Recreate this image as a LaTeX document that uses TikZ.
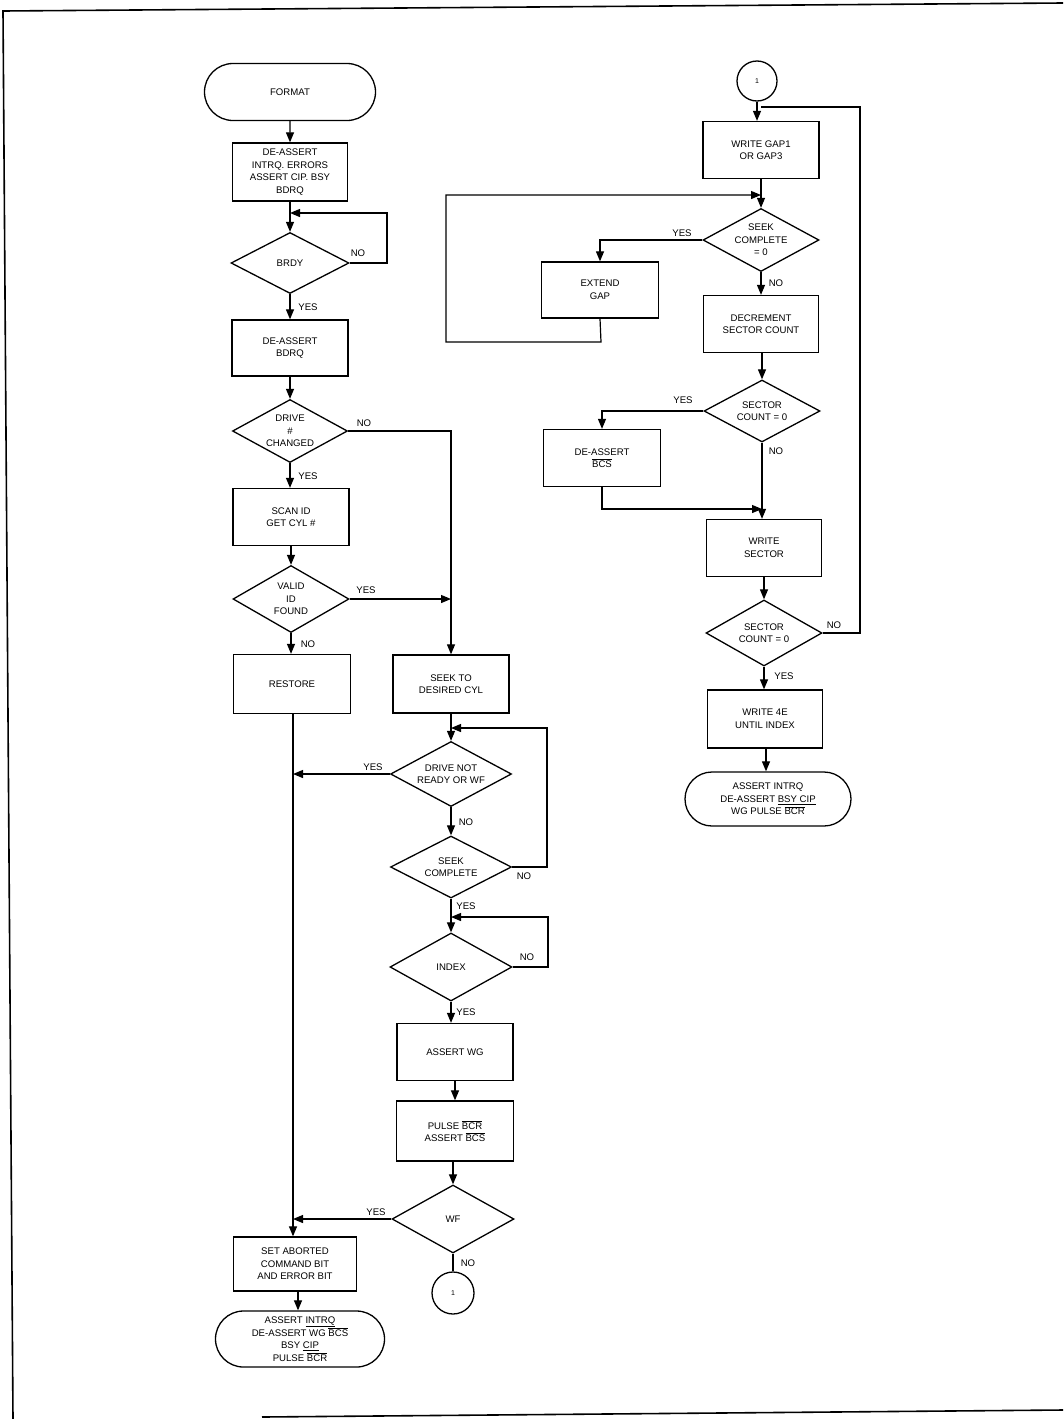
\documentclass[tikz,border=0pt]{standalone}
\usepackage{fontspec}
\setmainfont{Liberation Sans}
\usetikzlibrary{shapes.geometric,shapes.misc,arrows.meta}
\newcommand\lbl{\fontsize{9.6}{12.6}\selectfont}
\newcommand\olbar[1]{$\overline{\mbox{#1}}$}
\tikzset{
 box/.style={draw, line width=1.3pt, minimum width=116pt, minimum height=57pt, inner sep=0pt, align=center, font=\lbl},
 dia/.style={draw, diamond, line width=1.3pt, inner sep=0pt},
 dtext/.style={align=center, font=\lbl, inner sep=0pt},
 term/.style={draw, rounded rectangle, line width=1.3pt, inner sep=0pt, align=center, font=\lbl},
 conn/.style={draw, circle, line width=1.3pt, minimum size=40pt, inner sep=0pt, font=\fontsize{7}{8}\selectfont},
 arr/.style={line width=1.2pt, -{Triangle[length=10pt,width=8pt]}},
 ln/.style={line width=1.2pt},
 lab/.style={font=\lbl, inner sep=0pt},
 frame/.style={line width=1.6pt}
}
\begin{document}
\begin{tikzpicture}[x=1pt,y=-1pt]
\useasboundingbox (0,0) rectangle (1063,1419);
% page frame
\draw[frame] (13,1419) -- (3,11) -- (1063,3);
\draw[frame] (262,1417) -- (1063,1410);

% ---------- left column ----------
\node[term, minimum width=171pt, minimum height=57pt] (format) at (290,92) {FORMAT};
\node[box, minimum width=115pt, minimum height=58pt] (b1) at (290,172) {DE-ASSERT\\INTRQ. ERRORS\\ASSERT CIP. BSY\\BDRQ};
\node[dia, minimum width=118pt, minimum height=61pt] (brdy) at (290,263) {};
\node[dtext] (brdyt) at (brdy) {BRDY};
\node[box, minimum height=56pt] (b2) at (290,348) {DE-ASSERT\\BDRQ};
\node[dia, minimum width=115pt, minimum height=63pt] (drive) at (290,431) {};
\node[dtext] (drivet) at (drive) {DRIVE\\\#\\CHANGED};
\node[box] (scan) at (291,517) {SCAN ID\\GET CYL \#};
\node[dia, minimum width=116pt, minimum height=67pt] (valid) at (291,599) {};
\node[dtext] (validt) at (valid) {VALID\\ID\\FOUND};
\node[box, minimum width=117pt, minimum height=59pt] (restore) at (292,684) {RESTORE};
\node[box, minimum width=123pt, minimum height=54pt] (set) at (295,1264) {SET ABORTED\\COMMAND BIT\\AND ERROR BIT};
\node[term, minimum width=169pt, minimum height=56pt] (end1) at (300,1339) {ASSERT \underline{INTRQ}\\DE-ASSERT WG \olbar{BCS}\\BSY \underline{CIP}\\PULSE \olbar{BCR}};

% ---------- middle column ----------
\node[box, minimum height=58pt] (seek) at (451,684) {SEEK TO\\DESIRED CYL};
\node[dia, minimum width=121pt, minimum height=65pt] (ndr) at (451,774) {};
\node[dtext] (ndrt) at (ndr) {DRIVE NOT\\READY OR WF};
\node[dia, minimum width=121pt, minimum height=62pt] (sc) at (451,867) {};
\node[dtext] (sct1) at (sc) {SEEK\\COMPLETE};
\node[dia, minimum width=122pt, minimum height=68pt] (index) at (451,967) {};
\node[dtext] (indext) at (index) {INDEX};
\node[box] (awg) at (455,1052) {ASSERT WG};
\node[box, minimum width=117pt, minimum height=60pt] (pulse) at (455,1131) {PULSE \olbar{BCR}\\ASSERT \olbar{BCS}};
\node[dia, minimum width=122pt, minimum height=68pt] (wf) at (453,1219) {};
\node[dtext] (wft) at (wf) {WF};
\node[conn, minimum size=42pt] (c1) at (453,1293) {1};

% ---------- right column ----------
\node[conn] (c2) at (757,81) {1};
\node[box] (wg) at (761,150) {WRITE GAP1\\OR GAP3};
\node[dia, minimum width=116pt, minimum height=63pt] (scz) at (761,240) {};
\node[dtext] (sczt) at (scz) {SEEK\\COMPLETE\\= 0};
\node[box, minimum width=117pt, minimum height=56pt] (eg) at (600,290) {EXTEND\\GAP};
\node[box, minimum width=115pt] (dec) at (761,324) {DECREMENT\\SECTOR COUNT};
\node[dia, minimum width=116pt, minimum height=62pt] (sct) at (762,411) {};
\node[dtext] (sctt) at (sct) {SECTOR\\COUNT = 0};
\node[box, minimum width=117pt] (dea) at (602,458) {DE-ASSERT\\\olbar{BCS}};
\node[box, minimum width=115pt] (ws) at (764,548) {WRITE\\SECTOR};
\node[dia, minimum width=116pt, minimum height=66pt] (sc2) at (764,633) {};
\node[dtext] (sc2t) at (sc2) {SECTOR\\COUNT = 0};
\node[box, minimum width=115pt, minimum height=58pt] (w4e) at (765,719) {WRITE 4E\\UNTIL INDEX};
\node[term, minimum width=166pt, minimum height=54pt] (end2) at (768,799) {ASSERT INTRQ\\DE-ASSERT \underline{BSY CIP}\\WG PULSE \olbar{BCR}};

% ---------- junction coordinates ----------
\coordinate (j1) at (290,213);
\coordinate (j2) at (451,599);
\coordinate (j3) at (293,774);
\coordinate (j4) at (451,728);
\coordinate (j5) at (451,917);
\coordinate (j6) at (293,1219);
\coordinate (j7) at (761,107);
\coordinate (j8) at (761,195);
\coordinate (j9) at (762,509);

% ---------- left connectors ----------
\draw[arr] (format) -- (b1);
\draw[arr] (b1) -- (brdy.north);
\draw[arr] (brdy.east) -- (387,263) |- (j1);
\draw[arr] (brdy.south) -- (b2);
\draw[arr] (b2) -- (drive.north);
\draw[arr] (drive.east) -| (seek.north);
\draw[arr] (drive.south) -- (scan.north -| drive.south);
\draw[arr] (scan.south) -- (valid.north);
\draw[arr] (valid.east) -- (j2);
\draw[arr] (valid.south) -- (restore.north -| valid.south);
\draw[arr] (restore.south -| 293,0) -- (set.north -| 293,0);
\draw[arr] (set.south -| 298,0) -- (end1.north -| 298,0);

% ---------- middle connectors ----------
\draw[arr] (seek) -- (ndr.north);
\draw[arr] (sc.east) -- (547,867) |- (j4);
\draw[arr] (ndr.west) -- (j3);
\draw[arr] (ndr.south) -- (sc.north);
\draw[arr] (sc.south) -- (index.north);
\draw[arr] (index.east) -- (548,967) |- (j5);
\draw[arr] (index.south) -- (awg.north -| index.south);
\draw[arr] (awg) -- (pulse);
\draw[arr] (pulse.south -| wf.north) -- (wf.north);
\draw[arr] (wf.west) -- (j6);
\draw[ln] (wf.south) -- (c1.north);

% ---------- right connectors ----------
\draw[arr] (c2.south) -- (wg.north -| c2.south);
\draw[ln] (sc2.east) -- (860,633) |- (j7);
\draw[arr] (wg) -- (scz.north);
\draw[arr] (eg.south) -- (601,342) -- (446,342) |- (j8);
\draw[arr] (scz.west) -| (eg.north);
\draw[arr] (scz.south) -- (dec.north);
\draw[arr] (dec.south -| sct.north) -- (sct.north);
\draw[arr] (sct.west) -| (dea.north);
\draw[arr] (sct.south) -- (ws.north -| sct.south);
\draw[arr] (dea.south) |- (j9);
\draw[arr] (ws.south) -- (sc2.north);
\draw[arr] (sc2.south) -- (w4e.north -| sc2.south);
\draw[arr] (w4e.south -| 766,0) -- (end2.north -| 766,0);

% ---------- labels ----------
\node[lab] (l1) at (358,253) {NO};
\node[lab] (l2) at (308,307) {YES};
\node[lab] (l3) at (364,423) {NO};
\node[lab] (l4) at (308,476) {YES};
\node[lab] (l5) at (366,590) {YES};
\node[lab] (l6) at (308,644) {NO};
\node[lab] (l7) at (373,767) {YES};
\node[lab] (l8) at (466,822) {NO};
\node[lab] (l9) at (524,876) {NO};
\node[lab] (l10) at (466,906) {YES};
\node[lab] (l11) at (527,957) {NO};
\node[lab] (l12) at (466,1012) {YES};
\node[lab] (l13) at (376,1212) {YES};
\node[lab] (l14) at (468,1263) {NO};
\node[lab] (r1) at (682,233) {YES};
\node[lab] (r2) at (776,283) {NO};
\node[lab] (r3) at (683,400) {YES};
\node[lab] (r4) at (776,451) {NO};
\node[lab] (r5) at (834,625) {NO};
\node[lab] (r6) at (784,676) {YES};
\end{tikzpicture}
\end{document}
